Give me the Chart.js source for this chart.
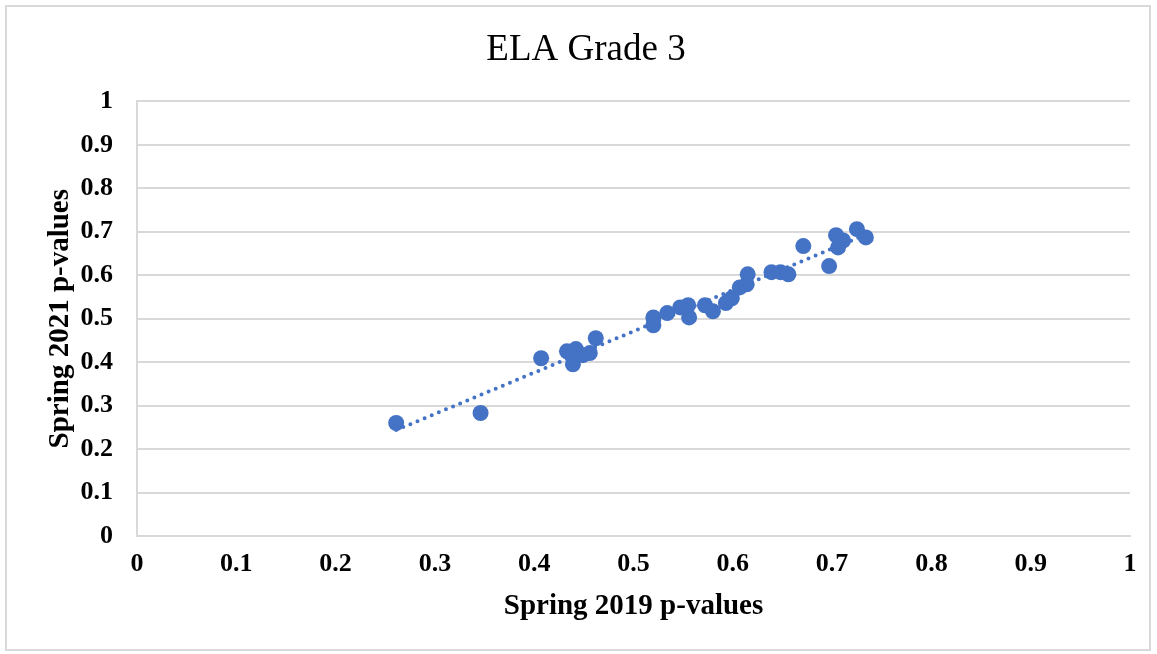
<!DOCTYPE html>
<html>
<head>
<meta charset="utf-8">
<script src="https://cdn.jsdelivr.net/npm/chart.js@4"></script>
<style>
  html, body { margin: 0; padding: 0; background: #fff; }
  #frame { position: absolute; left: 5px; top: 5px; width: 1146px; height: 646px; border: 2px solid #d9d9d9; box-sizing: border-box; }
  #wrap { position: absolute; left: 0; top: 0; width: 1157px; height: 654px; }
</style>
</head>
<body>
<div id="frame"></div>
<div id="wrap"><canvas id="chart"></canvas></div>
<script>
const p2019 = [0.261, 0.346, 0.407, 0.433, 0.442, 0.439, 0.449, 0.456, 0.462, 0.520, 0.520, 0.534, 0.547, 0.555, 0.556, 0.572,
  0.580, 0.593, 0.599, 0.607, 0.614, 0.615, 0.639, 0.648, 0.656, 0.671, 0.697, 0.704, 0.706, 0.711, 0.725, 0.734];
const p2021 = [0.260, 0.283, 0.409, 0.425, 0.430, 0.395, 0.416, 0.421, 0.455, 0.503, 0.485, 0.513, 0.526, 0.531, 0.503, 0.531,
  0.517, 0.536, 0.547, 0.572, 0.579, 0.602, 0.607, 0.607, 0.602, 0.667, 0.621, 0.692, 0.664, 0.680, 0.706, 0.687];
const tickValues = [0, 0.1, 0.2, 0.3, 0.4, 0.5, 0.6, 0.7, 0.8, 0.9, 1];

const points = p2019.map((x, i) => ({ x: x, y: p2021[i] }));

// linear trendline (least squares) over the data range
const n = p2019.length;
const mx = p2019.reduce((a, b) => a + b, 0) / n;
const my = p2021.reduce((a, b) => a + b, 0) / n;
let sxy = 0, sxx = 0;
p2019.forEach((x, i) => { sxy += (x - mx) * (p2021[i] - my); sxx += (x - mx) * (x - mx); });
const slope = sxy / sxx;
const icpt = my - slope * mx;
const xmin = Math.min(...p2019), xmax = Math.max(...p2019);
const trend = [{ x: xmin, y: icpt + slope * xmin }, { x: xmax, y: icpt + slope * xmax }];

const serif = "'Liberation Serif', 'Times New Roman', serif";
const blue = '#4472c4';

new Chart(document.getElementById('chart'), {
  type: 'scatter',
  data: {
    datasets: [
      { label: 'Trend', data: trend, showLine: true, pointRadius: 0, borderColor: blue, borderWidth: 4,
        borderDash: [0, 7.7], borderCapStyle: 'round', order: 0 },
      { label: 'Items', data: points, backgroundColor: blue, borderWidth: 0, pointRadius: 8, order: 1 }
    ]
  },
  options: {
    responsive: true,
    maintainAspectRatio: false,
    animation: false,
    layout: { padding: { left: 42, right: 27, top: 5, bottom: 15 } },
    plugins: {
      legend: { display: false },
      tooltip: { enabled: false },
      title: {
        display: true,
        text: 'ELA Grade 3',
        color: '#000',
        font: { family: serif, size: 37, weight: 'normal' },
        padding: { top: 23, bottom: 29 }
      }
    },
    scales: {
      x: {
        min: 0, max: 1,
        afterBuildTicks: s => { s.ticks = tickValues.map(v => ({ value: v })); },
        afterFit: s => { s.height = 103; },
        grid: { display: false, drawTicks: false },
        border: { display: true, color: '#d9d9d9', width: 2 },
        ticks: { color: '#000', padding: 13, maxRotation: 0, font: { family: serif, size: 26, weight: 'bold' }, callback: v => String(v) },
        title: { display: true, text: 'Spring 2019 p-values', color: '#000', padding: { top: 0, bottom: 15 },
          font: { family: serif, size: 29, weight: 'bold' } }
      },
      y: {
        min: 0, max: 1,
        afterBuildTicks: s => { s.ticks = tickValues.map(v => ({ value: v })); },
        afterFit: s => { s.width = 95; },
        grid: { color: '#d9d9d9', lineWidth: 2, drawTicks: false },
        border: { display: true, color: '#d9d9d9', width: 2 },
        ticks: { color: '#000', padding: 24, font: { family: serif, size: 26, weight: 'bold' }, callback: v => String(v) },
        title: { display: true, text: 'Spring 2021 p-values', color: '#000', padding: { top: 1, bottom: 0 },
          font: { family: serif, size: 29, weight: 'bold' } }
      }
    }
  }
});
</script>
</body>
</html>
